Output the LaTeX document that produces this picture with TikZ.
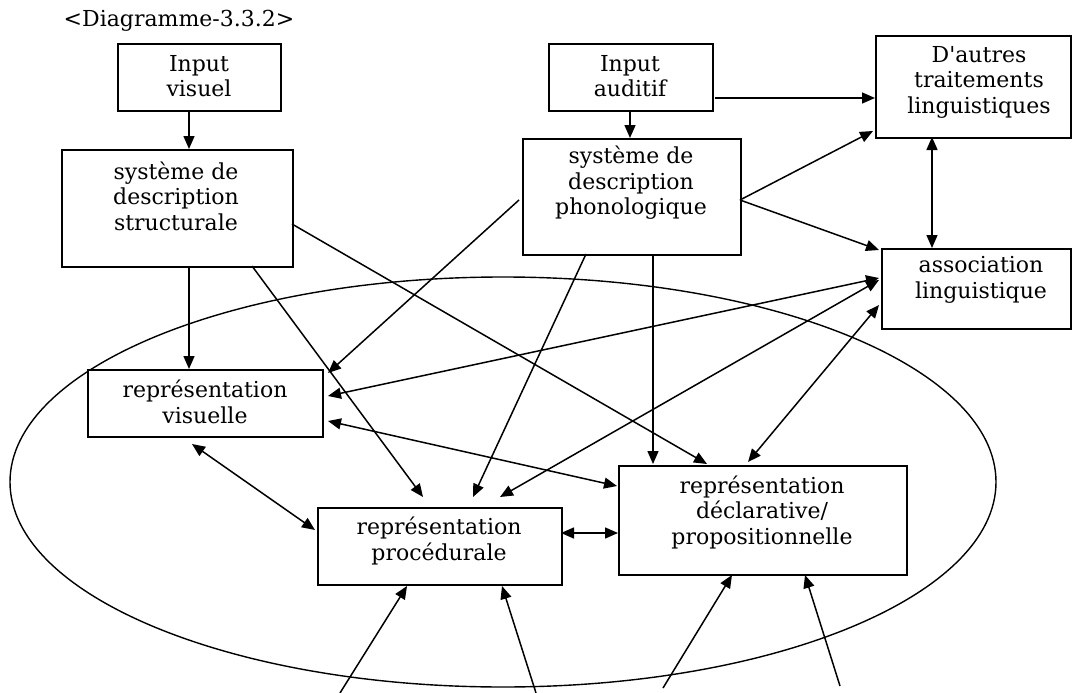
\documentclass[tikz,border=0pt]{standalone}
\usepackage{fontspec}
\setmainfont{DejaVu Serif}
\usetikzlibrary{arrows.meta,calc}
\begin{document}
\begin{tikzpicture}[x=1pt,y=-1pt,
  box/.style={draw, line width=1.8pt, fill=white, inner sep=0pt, anchor=north west},
  txt/.style={align=center, font=\fontsize{22}{25.5}\selectfont, inner sep=0pt},
  conn/.style={line width=1.5pt, -{Triangle[length=13pt,width=11pt]}},
  dconn/.style={line width=1.5pt, {Triangle[length=13pt,width=11pt]}-{Triangle[length=13pt,width=11pt]}},
  oval/.style={line width=1.4pt},
]
\useasboundingbox (0,0) rectangle (1074,693);

% ellipse (background)
\draw[oval] (503,482) ellipse [x radius=493, y radius=205];

% boxes
\node[box, minimum width=163pt, minimum height=67pt]  (iv)     at (117,43)  {};
\node[box, minimum width=231pt, minimum height=117pt] (struct) at (61,149)  {};
\node[box, minimum width=164pt, minimum height=67pt]  (ia)     at (548,43)  {};
\node[box, minimum width=218pt, minimum height=116pt] (phon)   at (522,138) {};
\node[box, minimum width=195pt, minimum height=102pt] (autres) at (875,35)  {};
\node[box, minimum width=189pt, minimum height=80pt]  (assoc)  at (881,248) {};
\node[box, minimum width=235pt, minimum height=67pt]  (vis)    at (87,369)  {};
\node[box, minimum width=244pt, minimum height=77pt]  (proc)   at (317,507) {};
\node[box, minimum width=288pt, minimum height=109pt] (decl)   at (618,465) {};

% texts
\node[txt] (title)   at (179,21)  {<Diagramme-3.3.2>};
\node[txt] (tiv)     at (199,76)  {Input\\visuel};
\node[txt] (tstruct) at (176,196) {système de\\description\\structurale};
\node[txt] (tia)     at (630,76)  {Input\\auditif};
\node[txt] (tphon)   at (631,183) {système de\\description\\phonologique};
\node[txt] (tautres) at (979,82)  {D\textquotesingle autres\\traitements\\linguistiques};
\node[txt] (tassoc)  at (981,280) {association\\linguistique};
\node[txt] (tvis)    at (205,402) {représentation\\visuelle};
\node[txt] (tproc)   at (439,541) {représentation\\procédurale};
\node[txt] (tdecl)   at (762,512) {représentation\\déclarative/\\propositionnelle};

% connectors
\draw[conn]  ($(iv.north west)+(72,67)$)      -- ($(struct.north west)+(128,0)$);
\draw[conn]  ($(ia.north west)+(82,67)$)      -- ($(phon.north west)+(108,0)$);
\draw[conn]  ($(ia.north west)+(167,55)$)     -- ($(autres.north west)+(0,63)$);
\draw[conn]  ($(phon.north west)+(218,62)$)   -- ($(autres.north west)+(-2,96)$);
\draw[conn]  ($(phon.north west)+(218,62)$)   -- ($(assoc.north west)+(-2,2)$);
\draw[dconn] ($(autres.north west)+(57,102)$) -- ($(assoc.north west)+(51,0)$);
\draw[conn]  ($(struct.north west)+(128,117)$) -- ($(vis.north west)+(102,0)$);
\draw[conn]  ($(struct.north west)+(191,117)$) -- ($(proc.north west)+(106,-10)$);
\draw[conn]  ($(struct.north west)+(231,75)$)  -- ($(decl.north west)+(89,-1)$);
\draw[conn]  ($(phon.north west)+(-3,62)$)    -- ($(vis.north west)+(241,4)$);
\draw[conn]  ($(phon.north west)+(64,116)$)   -- ($(proc.north west)+(156,-10)$);
\draw[conn]  ($(phon.north west)+(131,116)$)  -- ($(decl.north west)+(35,-1)$);
\draw[dconn] ($(vis.north west)+(241,27)$)    -- ($(assoc.north west)+(-2,30)$);
\draw[dconn] ($(proc.north west)+(183,-10)$)  -- ($(assoc.north west)+(-2,32)$);
\draw[dconn] ($(vis.north west)+(241,52)$)    -- ($(decl.north west)+(-1,21)$);
\draw[dconn] ($(decl.north west)+(130,-3)$)   -- ($(assoc.north west)+(-2,57)$);
\draw[dconn] ($(vis.north west)+(105,75)$)    -- ($(proc.north west)+(-2,23)$);
\draw[dconn] ($(proc.north west)+(244,26)$)   -- ($(decl.north west)+(0,68)$);

% arrows from below
\coordinate (b1) at (340,693);
\coordinate (b2) at (536,693);
\coordinate (b3) at (663,688);
\coordinate (b4) at (840,686);
\draw[conn] (b1) -- ($(proc.north west)+(90,79)$);
\draw[conn] (b2) -- ($(proc.north west)+(185,79)$);
\draw[conn] (b3) -- ($(decl.north west)+(114,110)$);
\draw[conn] (b4) -- ($(decl.north west)+(187,110)$);
\end{tikzpicture}
\end{document}
